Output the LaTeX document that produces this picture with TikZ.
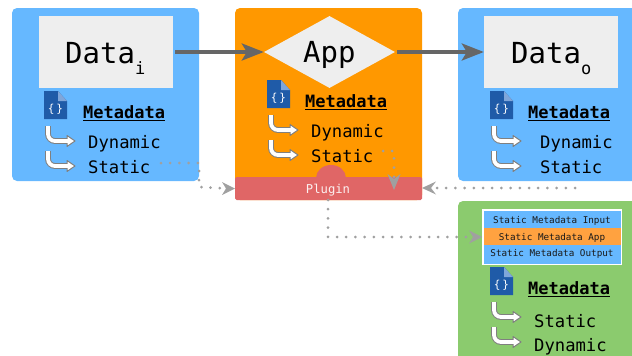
\documentclass[tikz,border=0pt]{standalone}
\usepackage{fontspec}
\setmainfont{DejaVu Sans Mono}
\usetikzlibrary{shapes.geometric,arrows.meta,calc}
\definecolor{panelblue}{HTML}{66B8FF}
\definecolor{panelorange}{HTML}{FF9800}
\definecolor{panelgreen}{HTML}{8BCB6E}
\definecolor{pluginred}{HTML}{E06666}
\definecolor{lightbox}{HTML}{EEEEEE}
\definecolor{rowblue}{HTML}{66B8FF}
\definecolor{roworange}{HTML}{FFA240}
\definecolor{flowgray}{HTML}{666666}
\definecolor{dotgray}{HTML}{A0A0A0}
\definecolor{iconblue}{HTML}{1F5BA8}
\definecolor{iconfold}{HTML}{7FA6DA}
\newcommand\mdul[1]{\setbox0\hbox{#1}\rlap{\rule[-3.4pt]{\wd0}{1.6pt}}\box0}
\newcommand\subtxt[1]{\raisebox{-11.5pt}{\fontsize{17}{17}\selectfont #1}}
\tikzset{
  x=1pt,y=-1pt,
  panel/.style={rounded corners=5pt,inner sep=0pt},
  graybox/.style={fill=lightbox,draw=none,minimum width=134pt,minimum height=72pt,inner sep=0pt},
  bigtext/.style={font=\fontsize{29}{31}\selectfont,anchor=base west,inner sep=0pt,text=black},
  metatitle/.style={font=\fontsize{17}{19}\selectfont\bfseries,anchor=base west,inner sep=0pt,text=black},
  metaitem/.style={font=\fontsize{17.2}{19}\selectfont,anchor=base west,inner sep=0pt,text=black},
  rowtext/.style={font=\fontsize{9.3}{11}\selectfont,text=black!90,inner sep=0pt},
  flow/.style={draw=flowgray,line width=3.4pt,-{Stealth[length=22pt,width=17pt,inset=5pt]}},
  dotflow/.style={draw=dotgray,line width=3pt,line cap=round,dash pattern=on 0pt off 9.2pt},
  dothead/.style={fill=dotgray,draw=none},
  bentarr/.pic={
    \draw[draw=black!50,line width=1pt,double=white,double distance=3.8pt,rounded corners=7pt]
      (0,0) -- (0,15) -- (20,15);
    \filldraw[draw=black!50,fill=white,line width=1pt,line join=round]
      (19,9.5) -- (27,15) -- (19,20.5) -- cycle;
    \fill[white] (17,13.1) rectangle (20.5,16.9);
  },
  fileicon/.pic={
    \fill[iconblue] (0,0) -- (14,0) -- (23,10) -- (23,28) -- (0,28) -- cycle;
    \fill[iconfold] (14,0) -- (23,10) -- (14,10) -- cycle;
    \node[text=white,font=\fontsize{11}{12}\selectfont,inner sep=0pt] at (11.5,18) {\{\,\}};
  },
}
\begin{document}
\begin{tikzpicture}
\useasboundingbox (0,0) rectangle (632,356);
\begin{scope}
\clip (0,0) rectangle (632,356);
% panels
\fill[panelblue,panel] (12,8) rectangle (199,181);
\fill[panelorange,panel] (235,8) rectangle (422,200);
\fill[panelblue,panel] (458,8) rectangle (660,181);
\fill[panelgreen,panel] (458,201) rectangle (660,380);
\end{scope}
% plugin
\fill[pluginred] (316,178) arc[x radius=15,y radius=13,start angle=180,end angle=360] -- cycle;
\fill[pluginred,rounded corners=1.5pt] (235,177) rectangle (422,200);
\node[font=\fontsize{12.2}{14}\selectfont,text=white!90!pluginred,inner sep=0pt,anchor=base] (plugin) at (328,193) {Plugin};
\coordinate (pluginbox) at (328,200);
% main nodes
\node[graybox] (datai) at (106,52) {};
\node[graybox] (datao) at (551,52) {};
\node[diamond,aspect=1.82,fill=lightbox,inner sep=0pt,minimum width=131pt,minimum height=72pt] (app) at (329.5,52) {};
\node[bigtext] at (65,63) {Data\subtxt{i}};
\node[bigtext] at (303,62) {App};
\node[bigtext] at (511,63) {Data\subtxt{o}};
% left metadata
\pic at (44,91) {fileicon};
\node[metatitle] at (83,118) {\mdul{Metadata}};
\pic at (48,126) {bentarr};
\pic at (48,151) {bentarr};
\node[metaitem] (dynL) at (88,148) {Dynamic};
\node[metaitem] (staL) at (88,173) {Static};
% app metadata
\pic at (267,80) {fileicon};
\node[metatitle] at (305,107) {\mdul{Metadata}};
\pic at (271,115) {bentarr};
\pic at (271,140) {bentarr};
\node[metaitem] (dynA) at (311,137) {Dynamic};
\node[metaitem] (staA) at (311,162) {Static};
% right metadata
\pic at (490,91) {fileicon};
\node[metatitle] at (528,118) {\mdul{Metadata}};
\pic at (494,126) {bentarr};
\pic at (494,151) {bentarr};
\node[metaitem] (dynR) at (540,148) {Dynamic};
\node[metaitem] (staR) at (540,173) {Static};
% green table
\fill[white] (482,209) rectangle (622,265);
\node[fill=rowblue,minimum width=137pt,minimum height=17pt,inner sep=0pt] (rowA) at (552,219.5) {};
\node[fill=roworange,minimum width=137pt,minimum height=17pt,inner sep=0pt] (rowB) at (552,236.5) {};
\node[fill=rowblue,minimum width=137pt,minimum height=19pt,inner sep=0pt] (rowC) at (552,254) {};
\node[rowtext] at (552,220.5) {Static Metadata Input};
\node[rowtext] at (552,237.5) {Static Metadata App};
\node[rowtext] at (552,254) {Static Metadata Output};
% green metadata
\pic at (490,267) {fileicon};
\node[metatitle] at (528,294) {\mdul{Metadata}};
\pic at (494,302) {bentarr};
\pic at (494,327) {bentarr};
\node[metaitem] (staG) at (534,327) {Static};
\node[metaitem] (dynG) at (534,351) {Dynamic};
% solid flows
\draw[flow] (datai.east) ++(2,0) -- (app.west);
\draw[flow] (app.east) ++(2,0) -- (datao.west);
% dotted flows
\coordinate (s1) at (161,163);
\coordinate (s2) at (199,163);
\coordinate (s3) at (199,187);
\coordinate (e1) at (226,188.5);
\draw[dotflow] (s1) -- (s2) -- (s3) -- (e1);
\fill[dothead] (235,188.5) -- (222,182) -- (226,188.5) -- (222,195) -- cycle;
\coordinate (a1) at (383,151);
\coordinate (a2) at (394,151);
\coordinate (a3) at (394,178);
\draw[dotflow] (a1) -- (a2) -- (a3);
\fill[dothead] (394,190) -- (387.5,174) -- (394,179) -- (400.5,174) -- cycle;
\coordinate (r1) at (575,188);
\coordinate (r2) at (431,188);
\draw[dotflow] (r1) -- (r2);
\fill[dothead] (422,188) -- (436,181.5) -- (431,188) -- (436,194.5) -- cycle;
\coordinate (b2) at (328,237);
\coordinate (b3) at (472,237);
\draw[dotflow] (pluginbox) -- (b2) -- (b3);
\fill[dothead] (482,237) -- (469,230.5) -- (473,237) -- (469,243.5) -- cycle;
\end{tikzpicture}
\end{document}
